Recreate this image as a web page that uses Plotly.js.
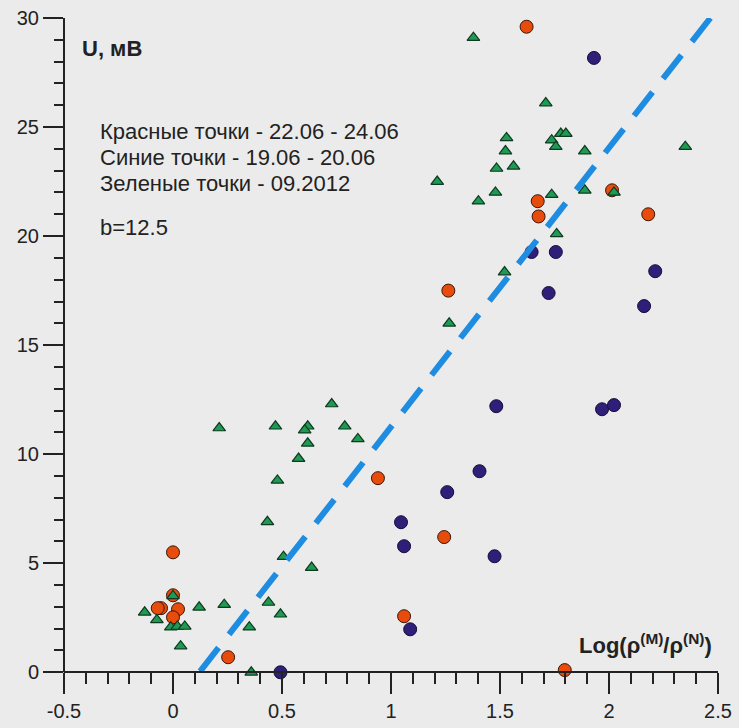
<!DOCTYPE html>
<html>
<head>
<meta charset="utf-8">
<script src="https://cdn.plot.ly/plotly-3.0.1.min.js"></script>
<style>html,body{margin:0;padding:0;background:#ebebeb;}</style>
</head>
<body>
<div id="chart" style="width:739px;height:728px;"></div>
<script>
// Red points (22.06 - 24.06)
var redX = [1.622, 1.673, 1.677, 2.014, 2.18, 1.263, 0.94, 1.244, 1.06, 1.797, 0.253, 0.0, 0.0, -0.055, -0.07, 0.023, 0.0];
var redY = [29.6, 21.6, 20.9, 22.1, 21.0, 17.5, 8.9, 6.2, 2.57, 0.1, 0.69, 5.5, 3.53, 2.94, 2.94, 2.89, 2.52];
// Blue points (19.06 - 20.06)
var blueX = [1.931, 1.645, 1.756, 2.212, 1.723, 2.161, 1.483, 1.968, 2.023, 1.406, 1.258, 1.046, 1.06, 1.475, 1.088, 0.493];
var blueY = [28.17, 19.27, 19.27, 18.39, 17.39, 16.79, 12.2, 12.06, 12.25, 9.22, 8.26, 6.88, 5.78, 5.32, 1.97, 0.0];
// Green points (09.2012)
var greenX = [1.378, 1.71, 1.53, 1.525, 1.737, 1.779, 1.802, 1.756, 1.889, 2.35, 1.484, 1.562, 1.212, 1.479, 1.737, 1.889, 2.023,
              1.401, 1.76, 1.521, 1.267,
              0.728, 0.212, 0.47, 0.618, 0.604, 0.788, 0.848, 0.618, 0.576, 0.479, 0.433, 0.507, 0.636,
              0.0, -0.13, -0.074, -0.01, 0.02, 0.054, 0.12, 0.235, 0.035, 0.438, 0.35, 0.493, 0.359];
var greenY = [29.1, 26.1, 24.5, 23.9, 24.4, 24.7, 24.7, 24.1, 23.9, 24.1, 23.1, 23.2, 22.5, 22.0, 21.9, 22.1, 22.0,
              21.6, 20.1, 18.35, 16.0,
              12.3, 11.2, 11.28, 11.28, 11.1, 11.28, 10.7, 10.5, 9.8, 8.8, 6.9, 5.3, 4.8,
              3.5, 2.75, 2.4, 2.07, 2.1, 2.1, 2.98, 3.1, 1.2, 3.2, 2.07, 2.66, 0.0];
// Fitted line (b = 12.5)
var fitX = [2.465, 0.092];
var fitY = [30.0, -0.37];

var xTicks = [-0.5, 0, 0.5, 1, 1.5, 2, 2.5];
var xTickText = ['-0.5', '0', '0.5', '1', '1.5', '2', '2.5'];
var yTicks = [0, 5, 10, 15, 20, 25, 30];
var yTickText = ['0', '5', '10', '15', '20', '25', '30'];

var legendLines = ['Красные точки - 22.06 - 24.06', 'Синие точки - 19.06 - 20.06', 'Зеленые точки - 09.2012'];
var slopeText = 'b=12.5';

var FONT = 'Liberation Sans, Arial, sans-serif';
var TXT = '#222222';

var traces = [
  {x: redX, y: redY, type: 'scatter', mode: 'markers', cliponaxis: false,
   marker: {symbol: 'circle', size: 13, color: '#e84c0c', line: {color: '#3a1608', width: 1}}},
  {x: blueX, y: blueY, type: 'scatter', mode: 'markers', cliponaxis: false,
   marker: {symbol: 'circle', size: 13, color: '#2f1f78', line: {color: '#160d3a', width: 1}}},
  {x: greenX, y: greenY, type: 'scatter', mode: 'markers', cliponaxis: false,
   marker: {symbol: 'triangle-up', size: 11, color: '#1e9a55', line: {color: '#0d3a1e', width: 1.2}}},
  {x: fitX, y: fitY, type: 'scatter', mode: 'lines',
   line: {color: '#1e8ce0', width: 6, dash: '30px,17px'}}
];

var annotations = [];
var legY = [24.8, 23.6, 22.43];
for (var i = 0; i < legendLines.length; i++) {
  annotations.push({x: -0.345, y: legY[i], xref: 'x', yref: 'y', text: legendLines[i], showarrow: false,
    xanchor: 'left', yanchor: 'middle', font: {family: FONT, size: 22, color: TXT}});
}
annotations.push({x: -0.345, y: 20.4, xref: 'x', yref: 'y', text: slopeText, showarrow: false,
  xanchor: 'left', yanchor: 'middle', font: {family: FONT, size: 22, color: TXT}});
annotations.push({x: -0.427, y: 28.62, xref: 'x', yref: 'y', text: '<b>U, мВ</b>', showarrow: false,
  xanchor: 'left', yanchor: 'middle', font: {family: FONT, size: 22, color: TXT}});
annotations.push({x: 2.48, y: 1.3, xref: 'x', yref: 'y', text: '<b>Log(ρ<sup>(M)</sup>/ρ<sup>(N)</sup>)</b>', showarrow: false,
  xanchor: 'right', yanchor: 'middle', font: {family: FONT, size: 22, color: TXT}});

var layout = {
  width: 739, height: 728,
  margin: {l: 64, r: 21, t: 18, b: 47, pad: 0},
  paper_bgcolor: '#ebebeb', plot_bgcolor: '#ebebeb',
  showlegend: false,
  font: {family: FONT, size: 20, color: TXT},
  xaxis: {
    range: [-0.5, 2.5], anchor: 'free', position: 0.4 / 30.4,
    showgrid: false, zeroline: false, showline: true, linecolor: '#222', linewidth: 2,
    ticks: 'outside', ticklen: 21, tickwidth: 2, tickcolor: '#222',
    tickmode: 'array', tickvals: xTicks, ticktext: xTickText,
    tickfont: {family: FONT, size: 20, color: TXT},
    minor: {dtick: 0.1, tick0: 0, ticks: 'outside', ticklen: 11, tickwidth: 2, tickcolor: '#222', showgrid: false}
  },
  yaxis: {
    range: [-0.4, 30],
    showgrid: false, zeroline: false, showline: false,
    ticks: 'outside', ticklen: 20, tickwidth: 2, tickcolor: '#222',
    tickmode: 'array', tickvals: yTicks, ticktext: yTickText,
    tickfont: {family: FONT, size: 20, color: TXT},
    minor: {dtick: 1, tick0: 0, ticks: 'outside', ticklen: 9, tickwidth: 2, tickcolor: '#222', showgrid: false}
  },
  shapes: [
    {type: 'line', xref: 'paper', yref: 'y', x0: 0, x1: 0, y0: 0, y1: 30, line: {color: '#222', width: 2}}
  ],
  annotations: annotations
};

Plotly.newPlot('chart', traces, layout, {displayModeBar: false, staticPlot: true});
</script>
</body>
</html>
